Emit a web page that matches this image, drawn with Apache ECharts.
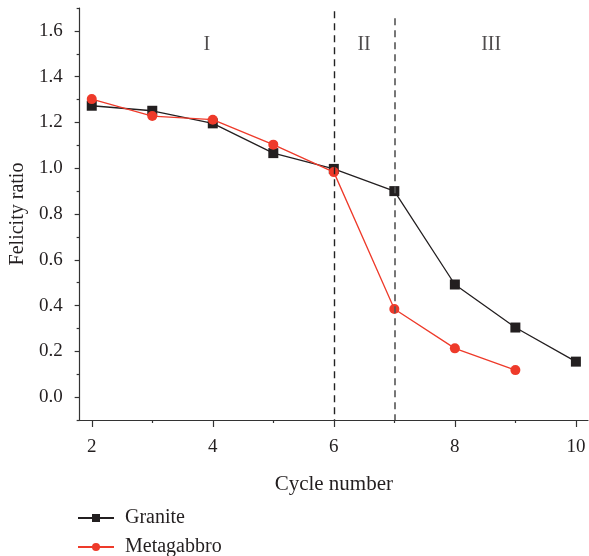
<!DOCTYPE html>
<html>
<head>
<meta charset="utf-8">
<script src="https://cdn.jsdelivr.net/npm/echarts@6/dist/echarts.min.js"></script>
<style>
  html, body { margin: 0; padding: 0; background: #fff; }
  #chart { width: 589px; height: 556px; }
</style>
</head>
<body>
<div id="chart"></div>
<script>
// Felicity ratio against loading cycle number
const cycles = [2, 3, 4, 5, 6, 7, 8, 9, 10];
const granite = [1.273, 1.251, 1.196, 1.066, 0.997, 0.900, 0.492, 0.304, 0.155];
const metagabbro = [1.302, 1.228, 1.212, 1.103, 0.983, 0.385, 0.213, 0.118];
const stageBounds = [6, 7];
const stageNames = ['I', 'II', 'III'];
const stageLabelX = [3.9, 6.5, 8.6];
const stageLabelY = 1.54;
const xMajor = [2, 4, 6, 8, 10];
const xMinor = [3, 5, 7, 9];
const yMajor = [0, 0.2, 0.4, 0.6, 0.8, 1.0, 1.2, 1.4, 1.6];
const yMinor = [-0.1, 0.1, 0.3, 0.5, 0.7, 0.9, 1.1, 1.3, 1.5, 1.7];

const FONT = '"Liberation Serif", "DejaVu Serif", serif';
const INK = '#231f20';
const RED = '#ee3a2a';

const chart = echarts.init(document.getElementById('chart'));

const axisBase = {
  type: 'value',
  splitLine: { show: false },
  axisLine: { show: true, onZero: false, lineStyle: { color: '#333', width: 1.2 } }
};
const hiddenLine = { show: false, onZero: false };

const legendText = { fontFamily: FONT, fontSize: 20, color: INK, padding: [0, 0, 0, 6] };

chart.setOption({
  animation: false,
  backgroundColor: '#fff',
  grid: { left: 76, right: 1, top: 8, bottom: 136, containLabel: false },
  xAxis: [
    Object.assign({}, axisBase, {
      min: 1.8, max: 10.2,
      name: 'Cycle number',
      nameLocation: 'middle',
      nameGap: 54,
      nameTextStyle: { fontFamily: FONT, fontSize: 21, color: INK },
      axisTick: { show: true, inside: false, length: 7, customValues: xMajor, lineStyle: { color: '#333', width: 1.2 } },
      axisLabel: { show: true, margin: 18, customValues: xMajor, fontFamily: FONT, fontSize: 19, color: INK,
        formatter: v => String(v) }
    }),
    Object.assign({}, axisBase, {
      min: 1.8, max: 10.2,
      position: 'bottom',
      axisLine: hiddenLine,
      axisTick: { show: true, inside: false, length: 3, customValues: xMinor, lineStyle: { color: '#333', width: 1.2 } },
      axisLabel: { show: false }
    })
  ],
  yAxis: [
    Object.assign({}, axisBase, {
      min: -0.1, max: 1.7,
      name: 'Felicity ratio',
      nameLocation: 'middle',
      nameGap: 50,
      nameRotate: 90,
      nameTextStyle: { fontFamily: FONT, fontSize: 20, color: INK },
      axisTick: { show: true, inside: false, length: 5, customValues: yMajor, lineStyle: { color: '#333', width: 1.2 } },
      axisLabel: { show: true, margin: 17, customValues: yMajor, fontFamily: FONT, fontSize: 19, color: INK,
        formatter: v => v.toFixed(1) }
    }),
    Object.assign({}, axisBase, {
      min: -0.1, max: 1.7,
      position: 'left',
      axisLine: hiddenLine,
      axisTick: { show: true, inside: false, length: 3, customValues: yMinor, lineStyle: { color: '#333', width: 1.2 } },
      axisLabel: { show: false }
    })
  ],
  legend: [
    { left: 72, top: 503, itemWidth: 36, itemHeight: 10, itemGap: 10,
      textStyle: legendText, data: ['Granite'] },
    { left: 72, top: 532, itemWidth: 36, itemHeight: 10, itemGap: 10,
      textStyle: legendText, data: ['Metagabbro'] }
  ],
  series: [
    {
      name: 'Granite',
      type: 'line',
      z: 2,
      data: cycles.map((c, i) => [c, granite[i]]),
      symbol: 'rect',
      symbolSize: 10,
      itemStyle: { color: INK },
      lineStyle: { color: INK, width: 1.3 },
      markLine: {
        silent: true,
        symbol: 'none',
        label: { show: false },
        data: [
          [{ coord: [stageBounds[0], 1.686], lineStyle: { color: '#222', type: [7, 5], width: 1.4 } },
           { coord: [stageBounds[0], -0.1] }],
          [{ coord: [stageBounds[1], 1.655], lineStyle: { color: '#555', type: [7, 5], width: 1.6 } },
           { coord: [stageBounds[1], -0.1] }]
        ]
      }
    },
    {
      name: 'Metagabbro',
      type: 'line',
      z: 3,
      data: metagabbro.map((v, i) => [cycles[i], v]),
      symbol: 'circle',
      symbolSize: 10,
      itemStyle: { color: RED },
      lineStyle: { color: RED, width: 1.3 }
    },
    {
      name: 'stages',
      type: 'scatter',
      silent: true,
      symbolSize: 0,
      data: stageNames.map((s, i) => [stageLabelX[i], stageLabelY, s]),
      label: {
        show: true,
        position: 'inside',
        formatter: p => p.data[2],
        fontFamily: FONT,
        fontSize: 20,
        color: INK
      }
    }
  ]
});
</script>
</body>
</html>
